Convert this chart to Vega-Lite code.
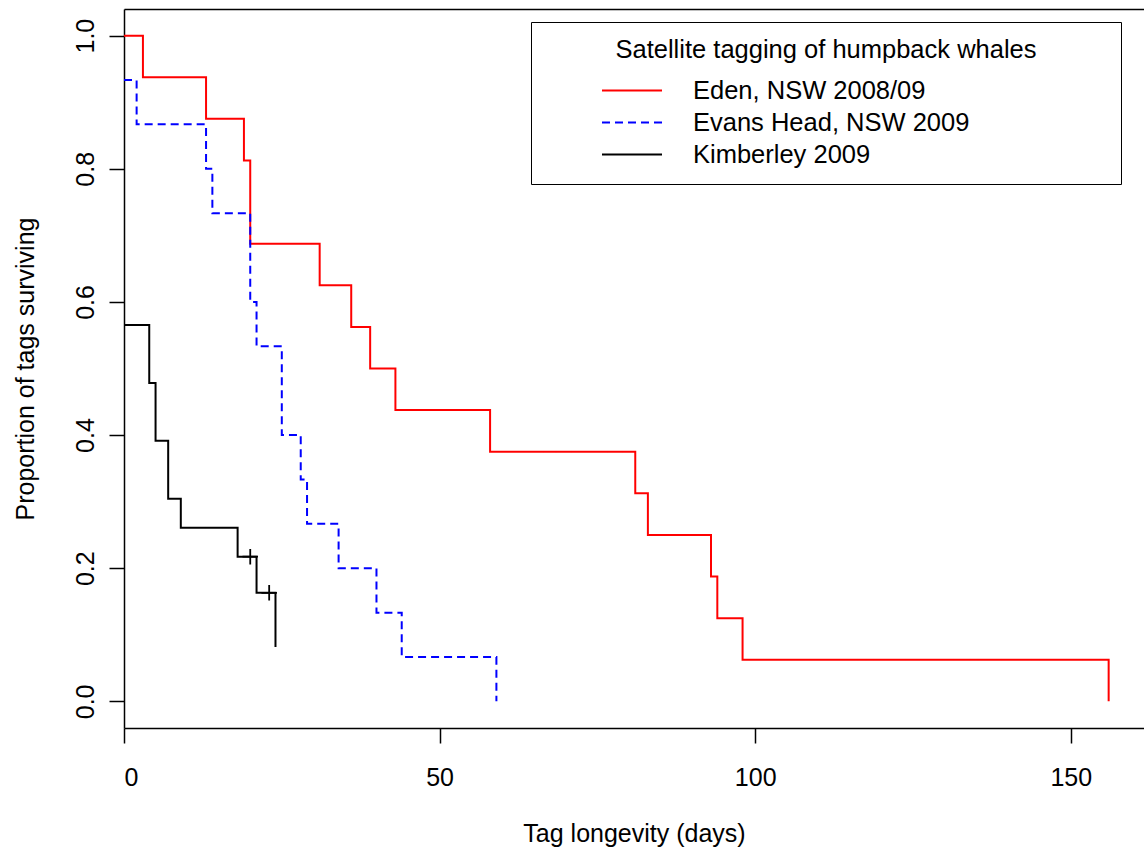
{
  "$schema": "https://vega.github.io/schema/vega-lite/v6.json",
  "width": 1020,
  "height": 719,
  "autosize": "none",
  "padding": {"left": 124, "top": 9, "right": 0, "bottom": 129},
  "background": "white",
  "config": {
    "view": {"stroke": null},
    "font": "Liberation Sans",
    "axis": {
      "grid": false,
      "domainColor": "#000000",
      "domainWidth": 1.5,
      "tickColor": "#000000",
      "tickWidth": 1.5,
      "tickSize": 15,
      "labelFont": "Liberation Sans",
      "labelFontSize": 25,
      "labelColor": "#000000",
      "titleFont": "Liberation Sans",
      "titleFontSize": 25,
      "titleFontWeight": "normal",
      "titleColor": "#000000"
    },
    "legend": {
      "labelFont": "Liberation Sans",
      "titleFont": "Liberation Sans"
    }
  },
  "datasets": {
    "curves": [
      {"site": "Eden, NSW 2008/09", "day": 0, "surv": 1.0},
      {"site": "Eden, NSW 2008/09", "day": 3, "surv": 0.9375},
      {"site": "Eden, NSW 2008/09", "day": 13, "surv": 0.875},
      {"site": "Eden, NSW 2008/09", "day": 19, "surv": 0.8125},
      {"site": "Eden, NSW 2008/09", "day": 20, "surv": 0.6875},
      {"site": "Eden, NSW 2008/09", "day": 31, "surv": 0.625},
      {"site": "Eden, NSW 2008/09", "day": 36, "surv": 0.5625},
      {"site": "Eden, NSW 2008/09", "day": 39, "surv": 0.5},
      {"site": "Eden, NSW 2008/09", "day": 43, "surv": 0.4375},
      {"site": "Eden, NSW 2008/09", "day": 58, "surv": 0.375},
      {"site": "Eden, NSW 2008/09", "day": 81, "surv": 0.3125},
      {"site": "Eden, NSW 2008/09", "day": 83, "surv": 0.25},
      {"site": "Eden, NSW 2008/09", "day": 93, "surv": 0.1875},
      {"site": "Eden, NSW 2008/09", "day": 94, "surv": 0.125},
      {"site": "Eden, NSW 2008/09", "day": 98, "surv": 0.0625},
      {"site": "Eden, NSW 2008/09", "day": 156, "surv": 0.0},
      {"site": "Evans Head, NSW 2009", "day": 0, "surv": 0.9333},
      {"site": "Evans Head, NSW 2009", "day": 2, "surv": 0.8667},
      {"site": "Evans Head, NSW 2009", "day": 13, "surv": 0.8},
      {"site": "Evans Head, NSW 2009", "day": 14, "surv": 0.7333},
      {"site": "Evans Head, NSW 2009", "day": 20, "surv": 0.6},
      {"site": "Evans Head, NSW 2009", "day": 21, "surv": 0.5333},
      {"site": "Evans Head, NSW 2009", "day": 25, "surv": 0.4},
      {"site": "Evans Head, NSW 2009", "day": 28, "surv": 0.3333},
      {"site": "Evans Head, NSW 2009", "day": 29, "surv": 0.2667},
      {"site": "Evans Head, NSW 2009", "day": 34, "surv": 0.2},
      {"site": "Evans Head, NSW 2009", "day": 40, "surv": 0.1333},
      {"site": "Evans Head, NSW 2009", "day": 44, "surv": 0.0667},
      {"site": "Evans Head, NSW 2009", "day": 59, "surv": 0.0},
      {"site": "Kimberley 2009", "day": 0, "surv": 0.5652},
      {"site": "Kimberley 2009", "day": 4, "surv": 0.4783},
      {"site": "Kimberley 2009", "day": 5, "surv": 0.3913},
      {"site": "Kimberley 2009", "day": 7, "surv": 0.3043},
      {"site": "Kimberley 2009", "day": 9, "surv": 0.2609},
      {"site": "Kimberley 2009", "day": 18, "surv": 0.2174},
      {"site": "Kimberley 2009", "day": 21, "surv": 0.163},
      {"site": "Kimberley 2009", "day": 24, "surv": 0.0815}
    ],
    "censor": [
      {"site": "Kimberley 2009", "day": 20, "surv": 0.2174},
      {"site": "Kimberley 2009", "day": 23, "surv": 0.163}
    ]
  },
  "layer": [
    {
      "data": {"name": "curves"},
      "mark": {"type": "line", "interpolate": "step-after", "strokeWidth": 2},
      "encoding": {
        "x": {
          "field": "day",
          "type": "quantitative",
          "scale": {"domain": [0, 161.6], "nice": false, "zero": false},
          "axis": {
            "orient": "bottom",
            "values": [0, 50, 100, 150],
            "format": "d",
            "title": "Tag longevity (days)",
            "labelPadding": 22,
            "titlePadding": 31
          }
        },
        "y": {
          "field": "surv",
          "type": "quantitative",
          "scale": {"domain": [-0.04, 1.04], "nice": false, "zero": false},
          "axis": {
            "values": [0, 0.2, 0.4, 0.6, 0.8, 1.0],
            "format": ".1f",
            "title": "Proportion of tags surviving",
            "labelAngle": 270,
            "labelAlign": "center",
            "labelBaseline": "bottom",
            "labelPadding": 11,
            "titlePadding": 35
          }
        },
        "color": {
          "field": "site",
          "type": "nominal",
          "scale": {
            "domain": ["Eden, NSW 2008/09", "Evans Head, NSW 2009", "Kimberley 2009"],
            "range": ["#FF0000", "#0000FF", "#000000"]
          },
          "legend": {
            "orient": "none",
            "legendX": 407,
            "legendY": 13,
            "title": "Satellite tagging of humpback whales",
            "titleAnchor": "middle",
            "titleAlign": "center",
            "titleFontSize": 25.5,
            "titleFontWeight": "normal",
            "titleColor": "#000000",
            "titleLimit": 2000,
            "titlePadding": 11,
            "labelFontSize": 25.5,
            "labelColor": "#000000",
            "labelLimit": 2000,
            "labelOffset": 45,
            "labelExpr": "datum.label + '\u00a0\u00a0\u00a0\u00a0\u00a0\u00a0\u00a0\u00a0\u00a0\u00a0\u00a0\u00a0\u00a0\u00a0\u00a0\u00a0\u00a0\u00a0\u00a0\u200b'",
            "symbolType": "M-2,0L2,0",
            "symbolSize": 900,
            "symbolStrokeWidth": 2,
            "symbolOffset": 69,
            "padding": 16,
            "rowPadding": 2,
            "strokeColor": "#000000",
            "fillColor": "#FFFFFF"
          }
        },
        "strokeDash": {
          "field": "site",
          "type": "nominal",
          "scale": {
            "domain": ["Eden, NSW 2008/09", "Evans Head, NSW 2009", "Kimberley 2009"],
            "range": [[1, 0], [8, 5], [1, 0]]
          },
          "legend": {
            "orient": "none",
            "legendX": 407,
            "legendY": 13,
            "title": "Satellite tagging of humpback whales",
            "titleAnchor": "middle",
            "titleAlign": "center",
            "titleFontSize": 25.5,
            "titleFontWeight": "normal",
            "titleColor": "#000000",
            "titleLimit": 2000,
            "titlePadding": 11,
            "labelFontSize": 25.5,
            "labelColor": "#000000",
            "labelLimit": 2000,
            "labelOffset": 45,
            "labelExpr": "datum.label + '\u00a0\u00a0\u00a0\u00a0\u00a0\u00a0\u00a0\u00a0\u00a0\u00a0\u00a0\u00a0\u00a0\u00a0\u00a0\u00a0\u00a0\u00a0\u00a0\u200b'",
            "symbolType": "M-2,0L2,0",
            "symbolSize": 900,
            "symbolStrokeWidth": 2,
            "symbolOffset": 69,
            "padding": 16,
            "rowPadding": 2,
            "strokeColor": "#000000",
            "fillColor": "#FFFFFF"
          }
        }
      }
    },
    {
      "data": {"name": "censor"},
      "mark": {
        "type": "point",
        "shape": "M-1,0L1,0M0,-1L0,1",
        "filled": false,
        "size": 240,
        "stroke": "#000000",
        "strokeWidth": 1.8,
        "opacity": 1
      },
      "encoding": {
        "x": {
          "field": "day",
          "type": "quantitative",
          "axis": {"orient": "top", "labels": false, "ticks": false, "title": null, "domain": true}
        },
        "y": {"field": "surv", "type": "quantitative"}
      }
    }
  ],
  "resolve": {"axis": {"x": "independent"}}
}
